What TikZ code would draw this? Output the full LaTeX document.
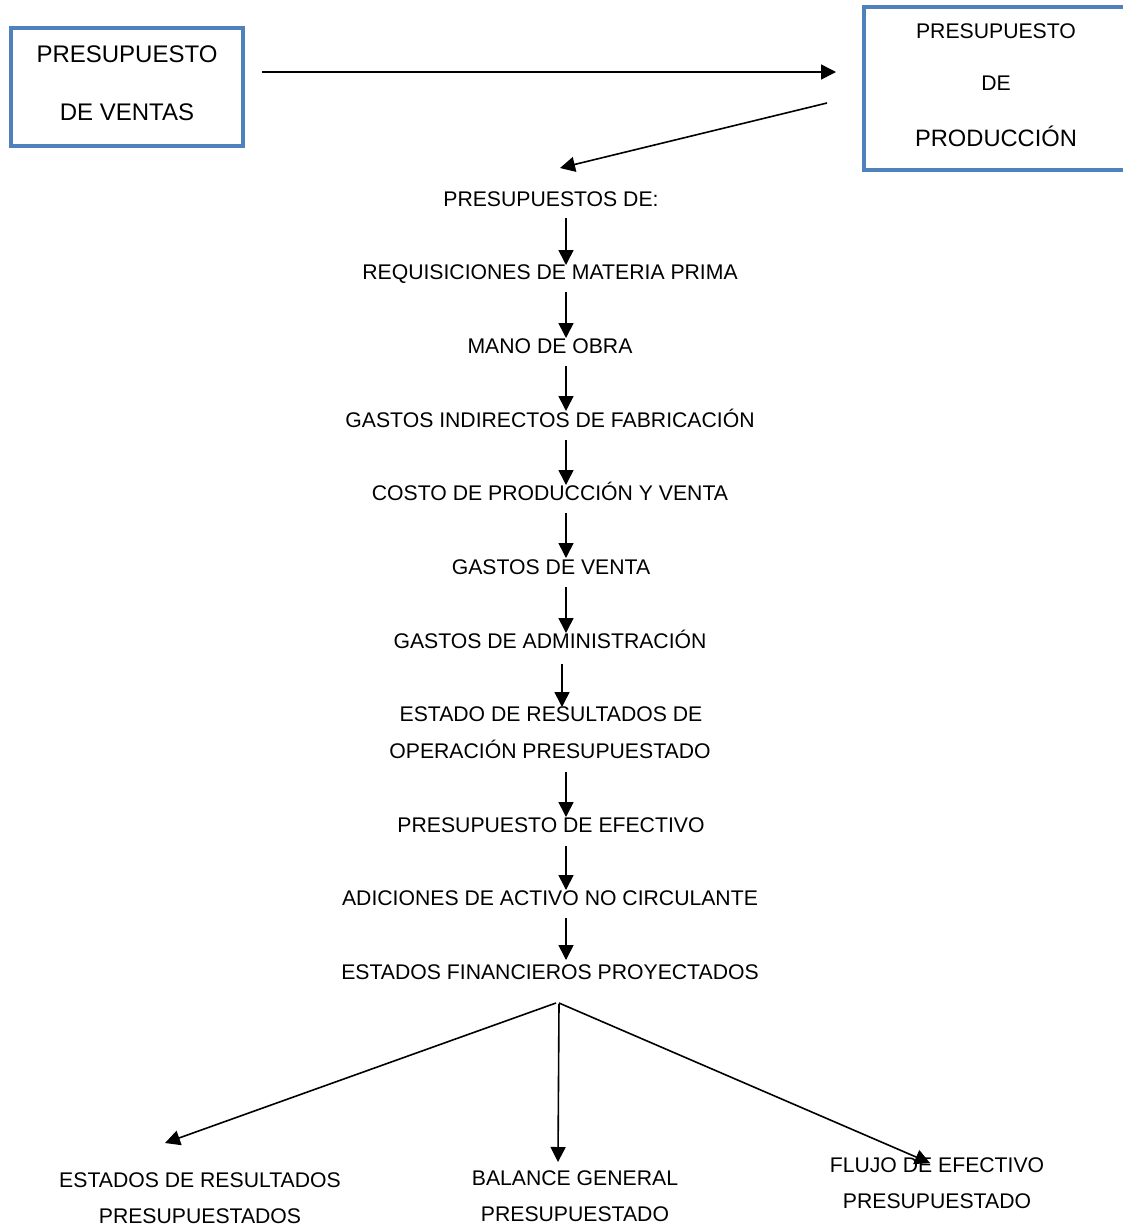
\documentclass[tikz,border=0pt]{standalone}
\usepackage{fontspec}
\setmainfont{Liberation Sans}
\usetikzlibrary{arrows.meta,calc}
\definecolor{boxblue}{HTML}{4F81BD}
\begin{document}
\begin{tikzpicture}[x=1pt,y=-1pt,
  txt/.style={anchor=base,inner sep=0pt,font=\fontsize{21.2}{25}\selectfont},
  bigtxt/.style={anchor=base,inner sep=0pt,font=\fontsize{24}{28}\selectfont},
  bluebox/.style={draw=boxblue,line width=4pt,inner sep=0pt},
  arr/.style={line width=1.6pt,-{Triangle[length=15pt,width=15pt]}}]
\clip (0,0) rectangle (1123,1227);
\fill[white] (0,0) rectangle (1123,1227);
% top boxes
\node[bluebox,minimum width=232pt,minimum height=118pt] (ventas) at (127,87) {};
\node[bigtxt] (v1) at (127,62.5) {PRESUPUESTO};
\node[bigtxt] (v2) at (127,120) {DE VENTAS};
\node[bluebox,minimum width=266pt,minimum height=163pt] (prod) at (997,88.5) {};
\node[txt] (p1) at (996,38) {PRESUPUESTO};
\node[txt] (p2) at (996,90) {DE};
\node[txt,font=\fontsize{23.7}{28}\selectfont] (p3) at (996,146) {PRODUCCIÓN};
% column
\node[txt] (t1) at (551,206) {PRESUPUESTOS DE:};
\node[txt] (t2) at (550,279) {REQUISICIONES DE MATERIA PRIMA};
\node[txt] (t3) at (550,353) {MANO DE OBRA};
\node[txt] (t4) at (550,427) {GASTOS INDIRECTOS DE FABRICACIÓN};
\node[txt] (t5) at (550,500) {COSTO DE PRODUCCIÓN Y VENTA};
\node[txt] (t6) at (551,574) {GASTOS DE VENTA};
\node[txt] (t7) at (550,648) {GASTOS DE ADMINISTRACIÓN};
\node[txt] (t8a) at (551,721) {ESTADO DE RESULTADOS DE};
\node[txt] (t8b) at (550,758) {OPERACIÓN PRESUPUESTADO};
\node[txt] (t9) at (551,832) {PRESUPUESTO DE EFECTIVO};
\node[txt] (t10) at (550,905) {ADICIONES DE ACTIVO NO CIRCULANTE};
\node[txt] (t11) at (550,979) {ESTADOS FINANCIEROS PROYECTADOS};
% bottom
\node[txt] (b1a) at (200,1187) {ESTADOS DE RESULTADOS};
\node[txt] (b1b) at (200,1223) {PRESUPUESTADOS};
\node[txt] (b2a) at (575,1185) {BALANCE GENERAL};
\node[txt] (b2b) at (575,1221) {PRESUPUESTADO};
\node[txt] (b3a) at (937,1172) {FLUJO DE EFECTIVO};
\node[txt] (b3b) at (937,1208) {PRESUPUESTADO};
% top arrows
\draw[arr] ($(ventas.east)+(17,-15)$) -- ($(prod.west)+(-26,-16.5)$);
\draw[arr] ($(prod.west)+(-35,14.5)$) -- ($(t1.base)+(9,-38)$);
% vertical chain
\draw[arr] ($(t1.base)+(15,12)$) -- ($(t2.base)+(16,-14)$);
\draw[arr] ($(t2.base)+(16,13)$) -- ($(t3.base)+(16,-15)$);
\draw[arr] ($(t3.base)+(16,13)$) -- ($(t4.base)+(16,-16)$);
\draw[arr] ($(t4.base)+(16,13)$) -- ($(t5.base)+(16,-15)$);
\draw[arr] ($(t5.base)+(16,13)$) -- ($(t6.base)+(15,-16)$);
\draw[arr] ($(t6.base)+(15,13)$) -- ($(t7.base)+(16,-15)$);
\draw[arr] ($(t7.base)+(12,16)$) -- ($(t8a.base)+(11,-14)$);
\draw[arr] ($(t8b.base)+(16,14)$) -- ($(t9.base)+(15,-15)$);
\draw[arr] ($(t9.base)+(15,14)$) -- ($(t10.base)+(16,-15)$);
\draw[arr] ($(t10.base)+(16,13)$) -- ($(t11.base)+(16,-19)$);
% bottom fan
\coordinate (apex) at ($(t11.base)+(8,24)$);
\draw[arr] ($(apex)+(-2,0)$) -- ($(b1a.base)+(-35,-44)$);
\draw[arr] ($(apex)+(1,1)$) -- ($(b2a.base)+(-17,-23)$);
\draw[arr] ($(apex)+(1,0)$) -- ($(b3a.base)+(-7,-9)$);
\end{tikzpicture}
\end{document}
